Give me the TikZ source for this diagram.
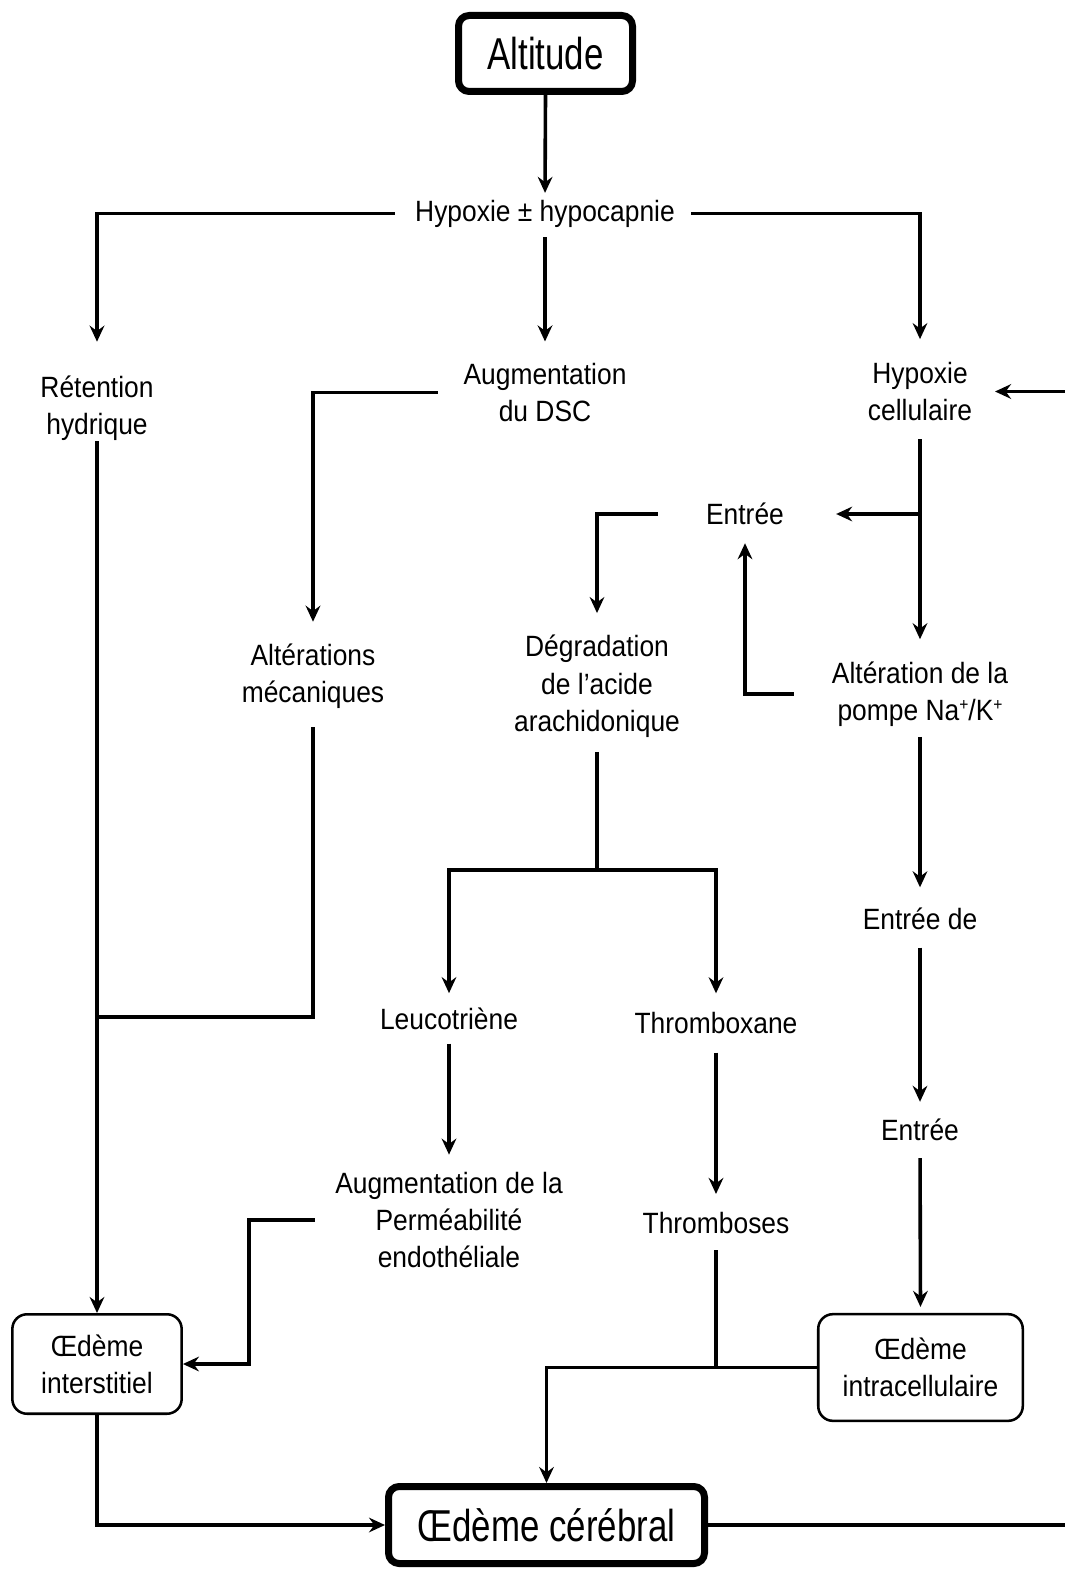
\documentclass[tikz,border=0pt]{standalone}
\usepackage{fontspec}
\setmainfont{Liberation Sans}[FakeStretch=0.9]
\newfontfamily\bigfont{Liberation Sans}[FakeStretch=0.78]
\usetikzlibrary{arrows.meta}
\newcommand{\supplus}{{\fontsize{13}{13}\selectfont\raisebox{0.55em}{+}}}
\begin{document}
\begin{tikzpicture}[x=0.75pt,y=-0.75pt,
  lbl/.style={inner sep=0pt, align=center, font=\fontsize{22}{28}\selectfont},
  bigbox/.style={draw, line width=5.25pt, rounded corners=8pt, inner sep=0pt, align=center, font=\bigfont\fontsize{33.5}{40}\selectfont},
  smallbox/.style={draw, line width=1.9pt, rounded corners=11pt, inner sep=0pt, align=center, font=\fontsize{22}{28}\selectfont},
  con/.style={line width=2.7pt},
  arr/.style={con, -{Stealth[length=12pt,width=11pt,inset=4pt]}},
]
\useasboundingbox (0,0) rectangle (1064,1569);

% boxes
\node[bigbox, minimum width=130.5pt, minimum height=57pt] (alt) at (545.5,53.5) {Altitude};
\node[bigbox, minimum width=237pt, minimum height=57.75pt] (ocer) at (546.5,1525) {Œdème cérébral};
\node[smallbox, minimum width=127pt, minimum height=74.6pt] (oint) at (97,1364) {Œdème\\interstitiel};
\node[smallbox, minimum width=153.4pt, minimum height=80pt] (ointra) at (920.5,1367.5) {Œdème\\intracellulaire};

% text nodes
\node[lbl] (hyp) at (545,213.5) {Hypoxie ± hypocapnie};
\node[lbl] (ret) at (97,408.5) {Rétention\\hydrique};
\node[lbl] (dsc) at (545,392.5) {Augmentation\\du DSC};
\node[lbl] (hcell) at (920,391.5) {Hypoxie\\cellulaire};
\node[lbl] (altm) at (313,676.5) {Altérations\\mécaniques};
\node[lbl] (entree1) at (745,514) {Entrée};
\node[lbl] (degr) at (597,686.5) {Dégradation\\de l’acide\\arachidonique};
\node[lbl] (pompe) at (920,694) {Altération de la\\pompe Na\supplus/K\supplus};
\node[lbl] (entde) at (920,918.5) {Entrée de};
\node[lbl] (entree2) at (920,1130) {Entrée};
\node[lbl] (leuco) at (449,1019) {Leucotriène};
\node[lbl] (thrx) at (716,1023) {Thromboxane};
\node[lbl] (perm) at (449,1220) {Augmentation de la\\Perméabilité\\endothéliale};
\node[lbl] (thrs) at (716,1223) {Thromboses};

% helper coordinates
\coordinate (edge) at (1066,0);
\coordinate (j1) at (97,1017);
\coordinate (j2) at (920,514);
\coordinate (j3) at (597,870);
\coordinate (c1) at (249,1300);

% connectors
\draw[arr, shorten >=5pt] (alt.south) -- (hyp.north);
\draw[arr, shorten <=15pt, shorten >=25.5pt] (hyp.west) -| (ret.north);
\draw[arr, shorten <=12pt, shorten >=17pt] (hyp.east) -| (hcell.north);
\draw[arr, shorten <=7.5pt, shorten >=16pt] (hyp.south) -- (dsc.north);
\draw[arr, shorten <=19pt, shorten >=16.5pt] (dsc.west) -| (altm.north);
\draw[arr] (ret.south) -- (oint.north);
\draw[con, shorten <=13.5pt] (altm.south) |- (j1);
\draw[arr, shorten <=13.5pt, shorten >=16.5pt] (hcell.south) -- (pompe.north);
\draw[arr, shorten >=39pt] (j2) -- (j2 -| entree1.east);
\draw[arr, shorten <=36pt, shorten >=16.5pt] (entree1.west) -| (degr.north);
\draw[arr, shorten <=28.5pt, shorten >=13.5pt] (pompe.west) -| (entree1.south);
\draw[arr, shorten <=7.5pt, shorten >=15pt] (pompe.south) -- (entde.north);
\draw[arr, shorten <=13.5pt, shorten >=12.75pt] (entde.south) -- (entree2.north);
\draw[arr, shorten <=12.75pt, shorten >=4.5pt] (entree2.south) -- (ointra.north);
\draw[con, shorten <=10.5pt] (degr.south) -- (j3);
\draw[arr, shorten >=11pt] (j3) -| (leuco.north);
\draw[arr, shorten >=14pt] (j3) -| (thrx.north);
\draw[arr, shorten <=10pt, shorten >=12.75pt] (leuco.south) -- (perm.north);
\draw[arr, shorten <=14pt, shorten >=13.5pt] (thrx.south) -- (thrs.north);
\draw[arr, shorten <=15pt] (perm.west) -| (c1) |- (oint.east);
\draw[arr] (ointra.west) -| (ocer.north);
\draw[con, shorten <=12pt] (thrs.south) -- (thrs.south |- ointra.west);
\draw[arr] (oint.south) |- (ocer.west);
\draw[arr, shorten >=17pt] (hcell.east -| edge) -- (hcell.east);
\draw[con] (ocer.east) -- (ocer.east -| edge);
\end{tikzpicture}
\end{document}
